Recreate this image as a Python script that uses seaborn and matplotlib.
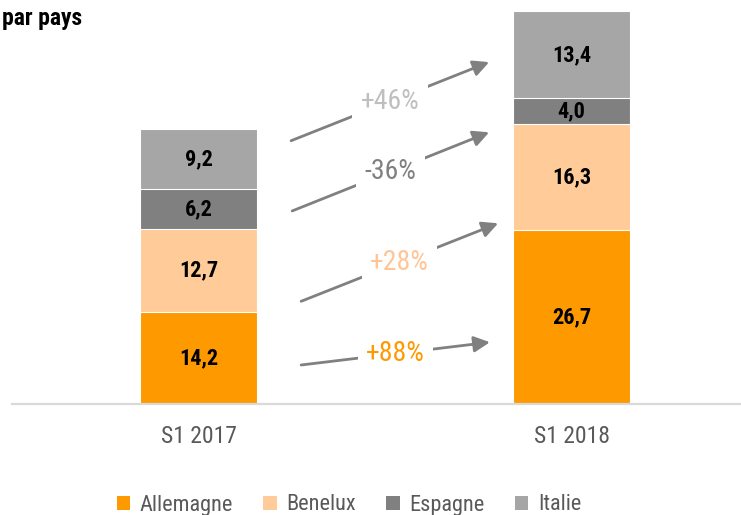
import matplotlib
matplotlib.use("Agg")
import matplotlib.pyplot as plt
import seaborn as sns
import numpy as np
import pandas as pd
from matplotlib import font_manager as fm
from matplotlib.patches import Patch

# ---- data ----
periods = ["S1 2017", "S1 2018"]
countries = ["Allemagne", "Benelux", "Espagne", "Italie"]
allemagne = [14.2, 26.7]
benelux = [12.7, 16.3]
espagne = [6.2, 4.0]
italie = [9.2, 13.4]
changes = ["+88%", "+28%", "-36%", "+46%"]

# ---- style ----
colors = ["#FF9900", "#FFCC99", "#808080", "#A6A6A6"]
change_colors = ["#FF9900", "#FFC596", "#808080", "#BFBFBF"]
# annotation arrow layout (x0, y0, x1, y1) in data units, per country
arrow_layout = [
    (0.275, 6.0, 0.781, 9.5),
    (0.275, 15.8, 0.803, 27.8),
    (0.251, 29.7, 0.779, 41.8),
    (0.248, 40.5, 0.779, 52.6),
]

sns.set_theme(style="white")
names = {f.name for f in fm.fontManager.ttflist}
cands = ["DejaVu Sans Condensed", "Liberation Sans Narrow", "Roboto Condensed",
         "Open Sans Condensed"]
FONT = [c for c in cands if c in names] + ["DejaVu Sans"]
plt.rcParams["font.family"] = FONT
plt.rcParams["font.stretch"] = "condensed"

series = [allemagne, benelux, espagne, italie]
df = pd.DataFrame({"period": periods})
for name, vals in zip(countries, series):
    df[name] = vals
cum = df[countries].cumsum(axis=1)

fig = plt.figure(figsize=(7.41, 5.15), dpi=100)
ax = fig.add_axes([12 / 741, 111 / 515, 729 / 741, 404 / 515])

# draw stacked bars: largest cumulative first
for i in range(len(countries) - 1, -1, -1):
    sns.barplot(x=df["period"], y=cum[countries[i]], color=colors[i],
                width=0.314, edgecolor="white", linewidth=0.8,
                saturation=1, ax=ax, label=countries[i], zorder=2)

# value labels
for j in range(len(periods)):
    base = 0.0
    for i, name in enumerate(countries):
        v = df.loc[j, name]
        ax.text(j, base + v / 2, f"{v:.1f}".replace(".", ","),
                ha="center", va="center", fontsize=16, fontweight="bold",
                color="black", zorder=3)
        base += v

# change arrows with labels
for (x0, y0, x1, y1), lab, c in zip(arrow_layout, changes, change_colors):
    ax.annotate("", xy=(x1, y1), xytext=(x0, y0),
                arrowprops=dict(arrowstyle="-|>", color="#808080", lw=2.0,
                                mutation_scale=24, shrinkA=0, shrinkB=0),
                zorder=3)
    ax.text((x0 + x1) / 2, (y0 + y1) / 2, lab, ha="center", va="center",
            fontsize=20, color=c, zorder=4,
            bbox=dict(boxstyle="square,pad=0.3", fc="white", ec="none"))

ax.set_xlim(-0.5, 1.454)
ax.set_ylim(0, 62.15)
ax.set_xlabel("")
ax.set_ylabel("")
ax.set_yticks([])
for s in ["top", "right", "left"]:
    ax.spines[s].set_visible(False)
ax.spines["bottom"].set_color("#D9D9D9")
ax.spines["bottom"].set_linewidth(1.6)
ax.tick_params(axis="x", length=0, pad=15, labelsize=17, labelcolor="#595959")
ax.patch.set_alpha(0)

# legend
if ax.get_legend() is not None:
    ax.get_legend().remove()
handles = [Patch(facecolor=c, edgecolor="none") for c in colors]
fig.legend(handles, countries, loc="center", bbox_to_anchor=(0.471, 10 / 515),
           ncol=4, frameon=False, fontsize=16, labelcolor="#595959",
           handlelength=0.6, handleheight=0.6, handletextpad=0.45,
           columnspacing=1.35)

fig.text(82 / 741, 1 - 18 / 515, "par pays", ha="right", va="center",
         fontsize=17, fontweight="bold", color="black")

fig.savefig("out.png", dpi=100)
